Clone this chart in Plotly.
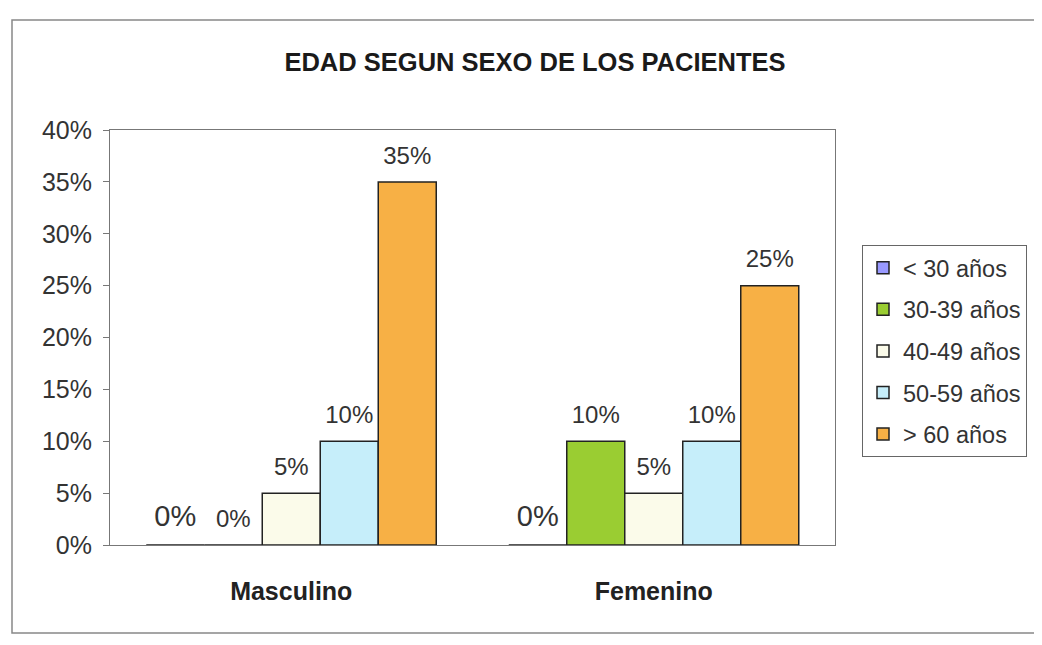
import plotly.graph_objects as go

categories = ["Masculino", "Femenino"]
series_names = ["< 30 años", "30-39 años", "40-49 años", "50-59 años", "> 60 años"]
values_lt30 = [0.00, 0.00]
values_30_39 = [0.00, 0.10]
values_40_49 = [0.05, 0.05]
values_50_59 = [0.10, 0.10]
values_gt60 = [0.35, 0.25]
y_ticks = [0, 0.05, 0.10, 0.15, 0.20, 0.25, 0.30, 0.35, 0.40]

series_values = [values_lt30, values_30_39, values_40_49, values_50_59, values_gt60]
colors = ["#9999FF", "#9ACD32", "#FBFBEA", "#C6EEFA", "#F7B045"]
label_sizes = [29, 24, 24, 24, 24]

FONT = "Liberation Sans, Arial, sans-serif"

# page body has an 8px margin on every side: figure sized so nothing overflows
W, H = 1034, 629
L, R, T, B = 102, 207, 122, 92
PW, PH = W - L - R, H - T - B  # 725 x 415
PX0, PY1 = 8 + L, 8 + H - B     # plot area left / bottom in page px

fig = go.Figure()
for i, (name, vals) in enumerate(zip(series_names, series_values)):
    fig.add_trace(go.Bar(
        name=name, x=categories, y=vals,
        marker=dict(color=colors[i], line=dict(color="#222222", width=1.5)),
        legendgroup=name, hoverinfo="x+y+name",
    ))
# value labels, grouped the same way as the bars, lifted a little above them
for i, (name, vals) in enumerate(zip(series_names, series_values)):
    fig.add_trace(go.Scatter(
        x=categories, y=vals, mode="markers+text",
        text=[f"{v:.0%}" for v in vals], textposition="top center",
        textfont=dict(size=label_sizes[i], color="#333333", family=FONT),
        marker=dict(size=18, opacity=0), showlegend=False, hoverinfo="skip",
        cliponaxis=False,
    ))

fig.update_layout(
    width=W, height=H,
    margin=dict(l=L, r=R, t=T, b=B),
    paper_bgcolor="white", plot_bgcolor="white",
    barmode="group", bargap=0.2, bargroupgap=0,
    scattermode="group", scattergap=0.2,
    font=dict(family=FONT, color="#222222"),
    title=dict(text="<b>EDAD SEGUN SEXO DE LOS PACIENTES</b>",
               x=(535 - 8) / W, xanchor="center", y=1 - (62 - 8) / H, yanchor="middle",
               font=dict(size=25.5, color="#1a1a1a", family=FONT)),
    showlegend=True,
    legend=dict(xref="container", yref="container",
                x=(862 - 8) / W, xanchor="left", y=1 - (245 - 8) / H, yanchor="top",
                bordercolor="#666666", borderwidth=1, bgcolor="white",
                font=dict(size=23.5, color="#333333", family=FONT),
                tracegroupgap=8, itemwidth=30),
    xaxis=dict(showline=True, linecolor="#777777", linewidth=1, mirror=True,
               ticks="", showgrid=False, ticklabelstandoff=24,
               tickfont=dict(size=25, color="#222222", family=FONT)),
    yaxis=dict(range=[0, 0.40], tickvals=y_ticks, tickformat=".0%",
               showline=True, linecolor="#777777", linewidth=1, mirror=True,
               ticks="outside", ticklen=6, tickcolor="#777777", ticklabelstandoff=6,
               showgrid=False, zeroline=False,
               tickfont=dict(size=25, color="#333333", family=FONT)),
)
fig.update_xaxes(ticktext=["<b>Masculino</b>", "<b>Femenino</b>"], tickvals=categories)

fig.add_shape(type="rect", xref="paper", yref="paper",
              x0=(12 - PX0) / PW, x1=(1060 - PX0) / PW,
              y0=(PY1 - 633) / PH, y1=(PY1 - 20) / PH,
              line=dict(color="#888888", width=1.5), layer="below")

fig.write_html("out.html")
